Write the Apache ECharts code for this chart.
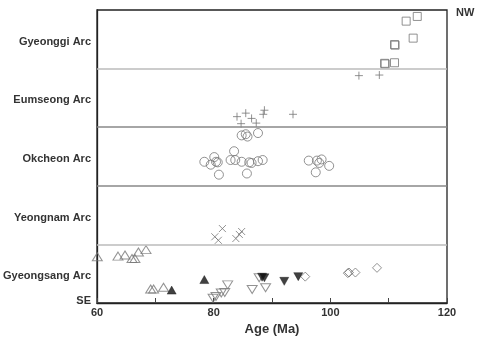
<!DOCTYPE html>
<html>
<head>
<meta charset="utf-8">
<script src="https://cdn.jsdelivr.net/npm/echarts@6/dist/echarts.min.js"></script>
<style>html,body{margin:0;padding:0;background:#fff}#c{width:480px;height:337px}</style>
</head>
<body>
<div id="c"></div>
<script>
// Band names (bottom to top), each band spans one unit on the y scale
var arcNames = ['Gyeongsang Arc', 'Yeongnam Arc', 'Okcheon Arc', 'Eumseong Arc', 'Gyeonggi Arc'];
var xTickLabels = [60, 80, 100, 120];
var separators = [1, 2, 3, 4];

// [age (Ma), position within bands]
var squares = [[114.9,4.89],[113.0,4.81],[114.2,4.52],[111.0,4.41],[111.1,4.40],[109.3,4.09],[109.4,4.08],[111.0,4.10]];
var pluses = [[104.9,3.88],[108.4,3.89],[84.0,3.18],[84.7,3.06],[85.5,3.24],[86.5,3.15],[87.3,3.07],[88.5,3.22],[88.7,3.29],[93.6,3.22]];
var circles = [[84.8,2.86],[85.5,2.88],[85.8,2.84],[87.6,2.90],[83.5,2.59],[80.1,2.49],[78.4,2.41],[79.5,2.36],[80.4,2.41],[80.7,2.40],[80.9,2.19],[82.9,2.44],[83.7,2.44],[84.8,2.41],[86.1,2.40],[86.5,2.39],[87.6,2.42],[88.4,2.44],[85.7,2.21],[96.3,2.43],[97.7,2.43],[98.5,2.45],[98.1,2.39],[99.8,2.34],[97.5,2.23]];
var crosses = [[81.5,1.27],[80.2,1.13],[80.8,1.07],[83.8,1.10],[84.8,1.22],[84.4,1.17]];
var triUpOpen = [[60.05,0.79],[63.6,0.80],[64.8,0.82],[66.0,0.76],[66.5,0.76],[67.1,0.87],[68.4,0.91],[69.2,0.24],[69.7,0.24],[71.4,0.27]];
var triUpFilled = [[72.8,0.22],[78.4,0.40]];
var triDownOpen = [[79.9,0.08],[80.4,0.11],[81.3,0.17],[81.9,0.18],[82.4,0.31],[86.6,0.23],[87.8,0.43],[88.9,0.26]];
var triDownFilled = [[88.3,0.44],[88.7,0.43],[92.1,0.37],[94.5,0.45]];
var diamonds = [[95.7,0.45],[103.0,0.51],[103.2,0.52],[104.3,0.52],[108.0,0.60]];

var openColor = '#777';
var FONT = 'Liberation Sans, Arial, sans-serif';

function openSeries(data, symbol, size) {
  return {
    type: 'scatter', data: data, symbol: symbol, symbolSize: size,
    itemStyle: { color: 'transparent', borderColor: openColor, borderWidth: 1 },
    silent: true, z: 3
  };
}
function filledSeries(data, symbol, size) {
  return {
    type: 'scatter', data: data, symbol: symbol, symbolSize: size,
    itemStyle: { color: '#111', borderColor: '#111', borderWidth: 0.5 },
    silent: true, z: 4
  };
}

var sepColors = { 1: '#bbb', 2: '#888', 3: '#888', 4: '#bbb' };

var chart = echarts.init(document.getElementById('c'), null, { renderer: 'canvas' });
chart.setOption({
  animation: false,
  backgroundColor: '#fff',
  grid: { left: 97, right: 33, top: 10, bottom: 34, outerBoundsMode: 'none', containLabel: false, show: true, borderColor: '#222', borderWidth: 1.3, backgroundColor: 'transparent' },
  xAxis: {
    type: 'value', min: 60, max: 120, interval: 10,
    name: 'Age (Ma)', nameLocation: 'middle', nameGap: 16,
    nameTextStyle: { fontFamily: FONT, fontWeight: 'bold', fontSize: 13, color: '#333' },
    axisLine: { show: true, lineStyle: { color: '#222', width: 1.3 } },
    axisTick: { show: true, inside: true, length: 5, lineStyle: { color: '#444' } },
    axisLabel: {
      fontFamily: FONT, fontWeight: 'bold', fontSize: 11, color: '#333', margin: 4,
      formatter: function (v) { return xTickLabels.indexOf(v) >= 0 ? String(v) : ''; }
    },
    splitLine: { show: false }
  },
  yAxis: {
    type: 'value', min: 0, max: 5, interval: 0.5,
    axisLine: { show: true, lineStyle: { color: '#222', width: 1.3 } },
    axisTick: { show: false },
    axisLabel: {
      fontFamily: FONT, fontWeight: 'bold', fontSize: 11, color: '#333', margin: 6,
      formatter: function (v) {
        if (v === 0) return '{s|SE}';
        var k = v - 0.5;
        if (Math.abs(k - Math.round(k)) < 1e-6 && arcNames[Math.round(k)]) return '{a|' + arcNames[Math.round(k)] + '}';
        return '';
      },
      rich: {
        a: { fontFamily: FONT, fontWeight: 'bold', fontSize: 11, color: '#333', padding: [5, 0, 0, 0] },
        s: { fontFamily: FONT, fontWeight: 'bold', fontSize: 11, color: '#333', padding: [0, 0, 4, 0] }
      }
    },
    splitLine: { show: false }
  },
  graphic: [
    { type: 'text', left: 456, top: 7, style: { text: 'NW', font: 'bold 11px ' + FONT, fill: '#333' } }
  ],
  series: [
    {
      type: 'line', data: [], silent: true,
      markLine: {
        silent: true, symbol: 'none', label: { show: false },
        data: separators.map(function (s) { return { yAxis: s, lineStyle: { color: sepColors[s], width: 1.5, type: 'solid' } }; })
      }
    },
    openSeries(squares, 'rect', 8),
    openSeries(pluses, 'path://M0,5L10,5M5,0L5,10', 8),
    openSeries(circles, 'circle', 9),
    openSeries(crosses, 'path://M0,0L10,10M10,0L0,10', 7),
    openSeries(triUpOpen, 'triangle', [10, 8]),
    filledSeries(triUpFilled, 'triangle', [9, 8]),
    openSeries(triDownOpen, 'path://M0,0L10,0L5,8Z', [10, 8]),
    filledSeries(triDownFilled, 'path://M0,0L10,0L5,8Z', [9, 8]),
    openSeries(diamonds, 'diamond', [9, 9])
  ]
});
</script>
</body>
</html>
